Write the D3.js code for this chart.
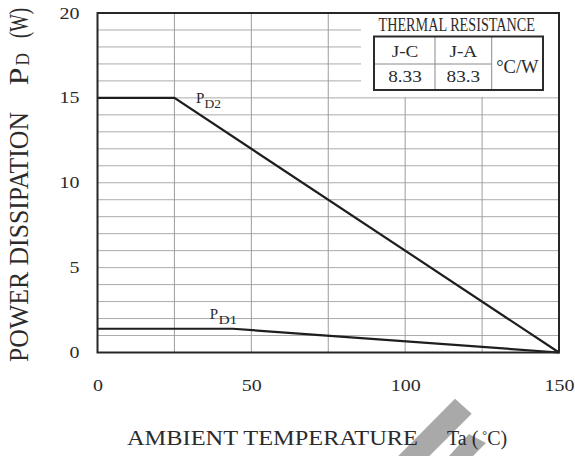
<!DOCTYPE html>
<html>
<head>
<meta charset="utf-8">
<script src="https://cdn.jsdelivr.net/npm/d3@7"></script>
<style>
  html, body { margin: 0; padding: 0; background: #fff; }
  svg { display: block; }
  text { font-family: "Liberation Serif", "Times New Roman", serif; fill: #2b2b2b; }
</style>
</head>
<body>
<svg id="chart" width="575" height="456"></svg>
<script>
// Derating curves: ambient temperature (°C) vs allowable power dissipation (W)
const tempPD2 = [0, 25, 150];
const powerPD2 = [15, 15, 0];
const tempPD1 = [0, 44, 150];
const powerPD1 = [1.4, 1.4, 0];

const xTicks = [0, 50, 100, 150];
const yTicks = [0, 5, 10, 15, 20];
const xGrid = [25, 50, 75, 100, 125];
const yGrid = d3.range(1, 20);

const resistanceHeads = ["J-C", "J-A"];
const resistanceValues = ["8.33", "83.3"];
const resistanceUnit = "°C/W";

const svg = d3.select("#chart");
const x = d3.scaleLinear().domain([0, 150]).range([97.5, 559]);
const y = d3.scaleLinear().domain([0, 20]).range([352.5, 13]);

// faint slanted logo marks behind the axis title
svg.append("g").attr("fill", "#a9a9a9")
  .selectAll("polygon")
  .data([
    [[455, 398.7], [471.7, 413.7], [429.4, 456], [398.3, 456]],
    [[469, 434], [486, 443], [473, 456], [449, 456]]
  ])
  .join("polygon")
  .attr("points", d => d.map(p => p.join(",")).join(" "));

// grid
const grid = svg.append("g");
grid.selectAll("line.h").data(yGrid).join("line")
  .attr("x1", x(0)).attr("x2", x(150))
  .attr("y1", d => y(d)).attr("y2", d => y(d))
  .attr("stroke", "#ababab").attr("stroke-width", 1);
grid.selectAll("line.v").data(xGrid).join("line")
  .attr("y1", y(0)).attr("y2", y(20))
  .attr("x1", d => x(d)).attr("x2", d => x(d))
  .attr("stroke", "#9d9d9d").attr("stroke-width", 1);

// data curves
const line = d3.line().x(d => x(d[0])).y(d => y(d[1]));
const curves = [d3.zip(tempPD2, powerPD2), d3.zip(tempPD1, powerPD1)];
svg.append("g").selectAll("path").data(curves).join("path")
  .attr("d", line)
  .attr("fill", "none").attr("stroke", "#1e1e1e").attr("stroke-width", 2.2);

// thermal resistance table (white panel in upper right of the plot)
const tb = svg.append("g");
tb.append("rect").attr("x", 361).attr("y", y(20)).attr("width", x(150) - 361).attr("height", y(15) - y(20) - 1)
  .attr("fill", "#fff");
tb.append("text").attr("x", 378.5).attr("y", 31).attr("font-size", 18)
  .attr("textLength", 156.5).attr("lengthAdjust", "spacingAndGlyphs")
  .text("THERMAL RESISTANCE");
const tx0 = 374, tx1 = 543, ty0 = 36.5, ty1 = 90, colA = 435, colB = 491.7, rowM = 64;
tb.append("line").attr("x1", colA).attr("x2", colA).attr("y1", ty0).attr("y2", ty1).attr("stroke", "#8a8a8a");
tb.append("line").attr("x1", colB).attr("x2", colB).attr("y1", ty0).attr("y2", ty1).attr("stroke", "#8a8a8a");
tb.append("line").attr("x1", tx0).attr("x2", colB).attr("y1", rowM).attr("y2", rowM).attr("stroke", "#8a8a8a");
tb.append("rect").attr("x", tx0).attr("y", ty0).attr("width", tx1 - tx0).attr("height", ty1 - ty0)
  .attr("fill", "none").attr("stroke", "#2b2b2b").attr("stroke-width", 2);
const colCenters = [(tx0 + colA) / 2 + 0.5, (colA + colB) / 2];
tb.selectAll("text.head").data(resistanceHeads).join("text")
  .attr("transform", (d, i) => `translate(${colCenters[i]},56.7) scale(1.2,1)`)
  .attr("text-anchor", "middle").attr("font-size", 16).text(d => d);
tb.selectAll("text.val").data(resistanceValues).join("text")
  .attr("transform", (d, i) => `translate(${colCenters[i]},81.7) scale(1.2,1)`)
  .attr("text-anchor", "middle").attr("font-size", 16).text(d => d);
tb.append("text").attr("x", (colB + tx1) / 2).attr("y", 73.3).attr("text-anchor", "middle")
  .attr("font-size", 18.5).text(resistanceUnit);

// frame
svg.append("rect").attr("x", x(0)).attr("y", y(20)).attr("width", x(150) - x(0)).attr("height", y(0) - y(20))
  .attr("fill", "none").attr("stroke", "#262626").attr("stroke-width", 2);

// axes (labels only; frame and grid are drawn above)
const yAxis = svg.append("g").attr("transform", `translate(${x(0)},0)`)
  .call(d3.axisLeft(y).tickValues(yTicks).tickSize(0).tickPadding(18));
const xAxis = svg.append("g").attr("transform", `translate(0,${y(0)})`)
  .call(d3.axisBottom(x).tickValues(xTicks).tickSize(0).tickPadding(27));
[yAxis, xAxis].forEach(a => {
  a.select(".domain").remove();
  a.selectAll("text").attr("font-size", 16).attr("fill", "#2b2b2b")
    .attr("font-family", "'Liberation Serif', 'Times New Roman', serif");
});
yAxis.selectAll("text").attr("x", -18 / 1.25).attr("transform", "scale(1.25,1)");
xAxis.selectAll("text").attr("transform", "scale(1.25,1)");

// curve labels P_D2 and P_D1
function curveLabel(px, py, sub, subLen) {
  const g = svg.append("g");
  g.append("text").attr("x", px).attr("y", py).attr("font-size", 15).text("P");
  g.append("text").attr("x", px + 8.6).attr("y", py + 5).attr("font-size", 12)
    .attr("textLength", subLen).attr("lengthAdjust", "spacingAndGlyphs").text(sub);
}
curveLabel(x(32), y(15) + 5.6, "D2", 16.5);
curveLabel(x(36.5), y(1.4) - 10.2, "D1", 19);

// x-axis title
svg.append("text").attr("x", 127).attr("y", 445).attr("font-size", 20)
  .attr("textLength", 291).attr("lengthAdjust", "spacingAndGlyphs").text("AMBIENT TEMPERATURE");
const tTitle = svg.append("text").attr("x", 447).attr("y", 445).attr("font-size", 20);
tTitle.append("tspan").text("Ta (");
tTitle.append("tspan").attr("font-size", 12).attr("dy", -6).attr("dx", 4).text("°");
tTitle.append("tspan").attr("dy", 6).text("C)");

// y-axis title (rotated)
function vText(str, yStart, size, len, bx) {
  svg.append("text").attr("transform", `translate(${bx},${yStart}) rotate(-90)`)
    .attr("font-size", size).attr("textLength", len).attr("lengthAdjust", "spacingAndGlyphs").text(str);
}
vText("POWER DISSIPATION", 362, 27, 250, 27.5);
vText("P", 85.5, 27, 18, 27.5);
vText("D", 65.5, 19, 12.5, 29);
vText("(W)", 38, 27, 30, 27.5);
</script>
</body>
</html>
